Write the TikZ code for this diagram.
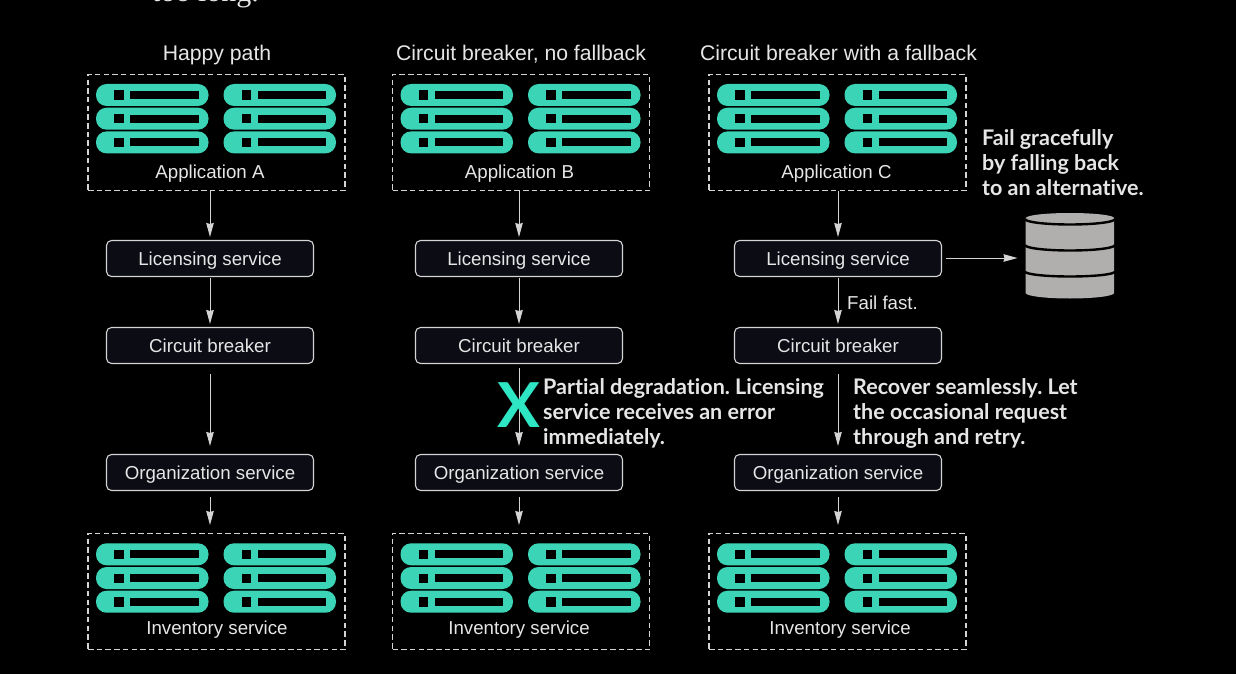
\documentclass[tikz,border=0pt]{standalone}
\usepackage{fontspec}
\setmainfont{Liberation Sans}
\newfontfamily\boldf{Lato}[Ligatures=NoCommon]
\newfontfamily\serf{Liberation Serif}
\usetikzlibrary{arrows.meta}
\definecolor{tealc}{HTML}{3BD4B6}
\definecolor{txt}{HTML}{E6E6E6}
\definecolor{linec}{HTML}{D4D4D4}
\definecolor{boxf}{HTML}{0B0C14}
\definecolor{dbc}{HTML}{B0AFAD}
\definecolor{xc}{HTML}{2FE6C4}
\tikzset{
 svc/.style={draw=linec,fill=boxf,rounded corners=5pt,line width=1.1pt,minimum width=207pt,minimum height=36pt,inner sep=0pt,text=txt,text height=17pt,text depth=4pt,font=\fontsize{18.7}{20}\selectfont},
 grp/.style={draw=linec,dashed,dash pattern=on 5.5pt off 3.2pt,line width=1.1pt,minimum width=257pt,minimum height=116pt,inner sep=0pt},
 lab/.style={text=txt,font=\fontsize{18.7}{20}\selectfont,inner sep=0pt},
 ttl/.style={text=txt,font=\fontsize{21.2}{24}\selectfont,inner sep=0pt},
 note/.style={text=txt,font=\boldf\bfseries\fontsize{21.5}{25}\selectfont,align=left,inner sep=0pt,anchor=north west},
 arr/.style={draw=linec,line width=1pt,-{Stealth[length=14pt,width=7.5pt,inset=1pt]}},
}
\newcommand{\rackrow}[2]{%
 \fill[tealc,rounded corners=10.5pt] (#1,#2) rectangle ++(112.5,22);
 \fill[black] (#1+18.3,#2+6.5) rectangle ++(9.3,9.3);
 \fill[black] (#1+34,#2+6.9) rectangle ++(68.7,8);
}
\newcommand{\rackgrp}[2]{%
 \rackrow{#1}{#2}\rackrow{#1}{#2+23.7}\rackrow{#1}{#2+47.4}%
 \rackrow{#1+127.5}{#2}\rackrow{#1+127.5}{#2+23.7}\rackrow{#1+127.5}{#2+47.4}%
}
\begin{document}
\begin{tikzpicture}[x=1pt,y=-1pt]
\frenchspacing
\useasboundingbox (0,0) rectangle (1236,674);
\fill[black] (0,0) rectangle (1236,674);
\node[text=txt,font=\serf\fontsize{30}{32}\selectfont,anchor=base west,inner sep=0pt] (cut) at (152,1.5) {too long.};

% titles
\node[ttl,anchor=base] (t1) at (217,61) {Happy path};
\node[ttl,anchor=base] (t2) at (521,61) {Circuit breaker, no fallback};
\node[ttl,anchor=base] (t3) at (838.5,61) {Circuit breaker with a fallback};

% groups
\node[grp] (g1) at (216.5,132.5) {};
\node[grp] (g2) at (521,132.5) {};
\node[grp] (g3) at (837.5,132.5) {};
\node[grp] (h1) at (216.5,591.5) {};
\node[grp] (h2) at (521,591.5) {};
\node[grp] (h3) at (837.5,591.5) {};
\rackgrp{96}{84}\rackgrp{400.5}{84}\rackgrp{717}{84}
\rackgrp{96}{543.3}\rackgrp{400.5}{543.3}\rackgrp{717}{543.3}
\node[lab,anchor=base] (la) at (210,178) {Application A};
\node[lab,anchor=base] (lb) at (519.5,178) {Application B};
\node[lab,anchor=base] (lc) at (836.5,178) {Application C};
\node[lab,anchor=base] (ia) at (217,634) {Inventory service};
\node[lab,anchor=base] (ib) at (519,634) {Inventory service};
\node[lab,anchor=base] (ic) at (840,634) {Inventory service};

% service boxes
\foreach \n/\x/\cbot in {1/210/374,2/519/368,3/838/374}{
 \node[svc] (l\n) at (\x,258.5) {Licensing service};
 \node[svc] (c\n) at (\x,345.5) {Circuit breaker};
 \node[svc] (o\n) at (\x,472.5) {Organization service};
 \coordinate (gt\n) at (\x,191);
 \coordinate (lt\n) at (\x,237);
 \coordinate (lb\n) at (\x,278);
 \coordinate (ct\n) at (\x,324);
 \coordinate (cb\n) at (\x,\cbot);
 \coordinate (ot\n) at (\x,446);
 \coordinate (ob\n) at (\x,497);
 \coordinate (ht\n) at (\x,525);
 \draw[arr] (gt\n) -- (lt\n);
 \draw[arr] (lb\n) -- (ct\n);
 \draw[arr] (cb\n) -- (ot\n);
 \draw[arr] (ob\n) -- (ht\n);
}
% X
\node[text=xc,font=\boldf\bfseries\fontsize{62}{62}\selectfont,inner sep=0pt,xscale=1.03] (x) at (519,405) {X};
% notes
\node[note] (n1) at (543,378.5) {Partial degradation. Licensing\\service receives an error\\immediately.};
\node[note] (n2) at (853,378.5) {Recover seamlessly. Let\\the occasional request\\through and retry.};
\node[note] (n3) at (982,129.5) {Fail gracefully\\by falling back\\to an alternative.};
\node[lab,anchor=base west] (ff) at (847,309) {Fail fast.};

% database
\coordinate (db) at (1017.5,258);
\draw[arr] (946,258) -- (db);
\fill[dbc] (1025.7,218) -- (1025.7,293) arc[start angle=180,end angle=0,x radius=44.2,y radius=5.5] -- (1114.1,218) -- cycle;
\fill[dbc] (1070,218) ellipse[x radius=44,y radius=5];
\draw[black,line width=2.4pt] (1025,219) arc[start angle=180,end angle=0,x radius=45,y radius=5.5];
\draw[black,line width=2.4pt] (1025,245) arc[start angle=180,end angle=0,x radius=45,y radius=5.5];
\draw[black,line width=2.4pt] (1025,271.5) arc[start angle=180,end angle=0,x radius=45,y radius=5];
\end{tikzpicture}
\end{document}
